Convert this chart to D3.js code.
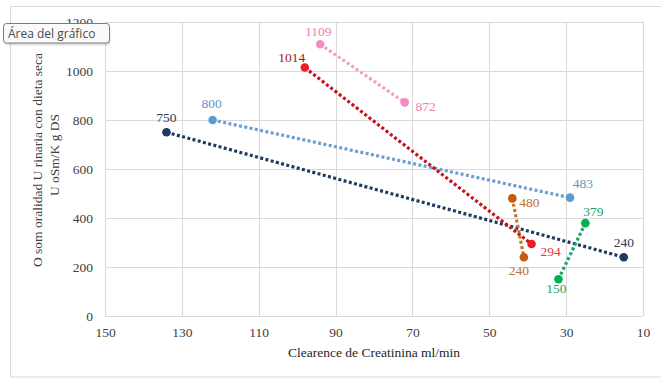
<!DOCTYPE html>
<html>
<head>
<meta charset="utf-8">
<script src="https://cdn.jsdelivr.net/npm/d3@7"></script>
<style>
html,body{margin:0;padding:0;background:#fff;}
svg{display:block;}
.serif{font-family:"Liberation Serif","DejaVu Serif",serif;}
</style>
</head>
<body>
<svg id="chart" width="661" height="378"></svg>
<script>
// ---- data ----
const xTicks = [150, 130, 110, 90, 70, 50, 30, 10];
const yTicks = [0, 200, 400, 600, 800, 1000, 1200];
const seriesNames = ["navy", "lightblue", "red", "pink", "orange", "green"];
const navyX = [134, 15],  navyY = [750, 240];
const lightBlueX = [122, 29], lightBlueY = [800, 483];
const redX = [98, 39], redY = [1014, 294];
const pinkX = [94, 72], pinkY = [1109, 872];
const orangeX = [44, 41], orangeY = [480, 240];
const greenX = [25, 32], greenY = [379, 150];
const xTitle = "Clearence de Creatinina ml/min";
const yTitle1 = "O som oralidad U rinaria con dieta seca";
const yTitle2 = "U oSm/K g DS";
const tooltipText = "Área del gráfico";

// ---- styling ----
const series = [
  {x: navyX, y: navyY, color: "#1f3864", line: "#1f3864", labels: ["#2a3d60", "#2a3d60"], off: [[0, -14], [0, -14]]},
  {x: lightBlueX, y: lightBlueY, color: "#5b9bd5", line: "#6a9fcf", labels: ["#5f96c8", "#5f96c8"], off: [[-1, -16], [13, -14]]},
  {x: redX, y: redY, color: "#ee1c25", line: "#c8101a", labels: ["#a4161e", "#e0374a"], off: [[-13, -10], [19, 8]]},
  {x: pinkX, y: pinkY, color: "#f28cc1", line: "#f0a0c8", labels: ["#ec80b4", "#ec80b4"], off: [[-2, -12], [21, 5]]},
  {x: orangeX, y: orangeY, color: "#c55a11", line: "#c8742a", labels: ["#c07030", "#c07030"], off: [[17, 5], [-5, 14]]},
  {x: greenX, y: greenY, color: "#00b050", line: "#1aa866", labels: ["#22a070", "#22a070"], off: [[8, -11], [-2, 10]]}
];

const svg = d3.select("#chart");
const x = d3.scaleLinear().domain([150, 10]).range([105, 643]);
const y = d3.scaleLinear().domain([0, 1200]).range([316, 22]);

// outer chart-area border
svg.append("rect").attr("x", 10.5).attr("y", 6.5).attr("width", 660).attr("height", 370.5)
  .attr("fill", "#fff").attr("stroke", "#d9d9d9");

// gridlines
svg.append("g").selectAll("line").data(xTicks).join("line")
  .attr("x1", d => Math.round(x(d)) + 0.5).attr("x2", d => Math.round(x(d)) + 0.5)
  .attr("y1", y(1200)).attr("y2", y(0)).attr("stroke", "#d9d9d9");
svg.append("g").selectAll("line").data(yTicks).join("line")
  .attr("y1", d => Math.round(y(d)) + 0.5).attr("y2", d => Math.round(y(d)) + 0.5)
  .attr("x1", x(150)).attr("x2", x(10)).attr("stroke", "#d9d9d9");

// axes
const xAxis = svg.append("g").attr("transform", `translate(0,${y(0)})`)
  .call(d3.axisBottom(x).tickValues(xTicks).tickFormat(d3.format("d")).tickSize(0).tickPadding(11));
const yAxis = svg.append("g").attr("transform", `translate(${x(150)},0)`)
  .call(d3.axisLeft(y).tickValues(yTicks).tickFormat(d3.format("d")).tickSize(0).tickPadding(12));
[xAxis, yAxis].forEach(a => {
  a.attr("font-family", null).attr("font-size", null);
  a.select(".domain").remove();
  a.selectAll("text").attr("class", "serif").style("font-size", "13.5px").attr("fill", "#404040");
});

// titles
svg.append("text").attr("class", "serif").attr("x", 374).attr("y", 357).attr("text-anchor", "middle")
  .style("font-size", "13.5px").attr("fill", "#262626").text(xTitle);
svg.append("text").attr("class", "serif").attr("transform", "translate(42,160) rotate(-90)").attr("text-anchor", "middle")
  .style("font-size", "13.5px").attr("fill", "#404040").text(yTitle1);
svg.append("text").attr("class", "serif").attr("transform", "translate(59,155) rotate(-90)").attr("text-anchor", "middle")
  .style("font-size", "13.5px").attr("fill", "#404040").text(yTitle2);

// series
const line = d3.line().x(d => x(d[0])).y(d => y(d[1]));
series.forEach(s => {
  const pts = s.x.map((v, i) => [v, s.y[i]]);
  svg.append("path").datum(pts).attr("d", line).attr("fill", "none")
    .attr("stroke", s.line).attr("stroke-width", 3.2).attr("stroke-dasharray", "3,2.4");
  svg.append("g").selectAll("circle").data(pts).join("circle")
    .attr("cx", d => x(d[0])).attr("cy", d => y(d[1])).attr("r", 4.3).attr("fill", s.color);
  svg.append("g").selectAll("text").data(pts).join("text")
    .attr("class", "serif")
    .attr("x", (d, i) => x(d[0]) + s.off[i][0]).attr("y", (d, i) => y(d[1]) + s.off[i][1] + 4)
    .attr("text-anchor", "middle").style("font-size", "13.5px")
    .attr("fill", (d, i) => s.labels[i]).text(d => d[1]);
});

// tooltip
const tip = svg.append("g");
tip.append("rect").attr("x", 4.5).attr("y", 25.5).attr("width", 106).attr("height", 20).attr("rx", 3)
  .attr("fill", "#000").attr("opacity", 0.12);
tip.append("rect").attr("x", 3.5).attr("y", 23.5).attr("width", 106).attr("height", 19.5).attr("rx", 3)
  .attr("fill", "#fafafa").attr("stroke", "#7a7a7a");
tip.append("text").attr("x", 8).attr("y", 38).attr("font-family", "Open Sans, sans-serif").attr("font-size", 12)
  .attr("fill", "#4a4a4a").text(tooltipText);
</script>
</body>
</html>
